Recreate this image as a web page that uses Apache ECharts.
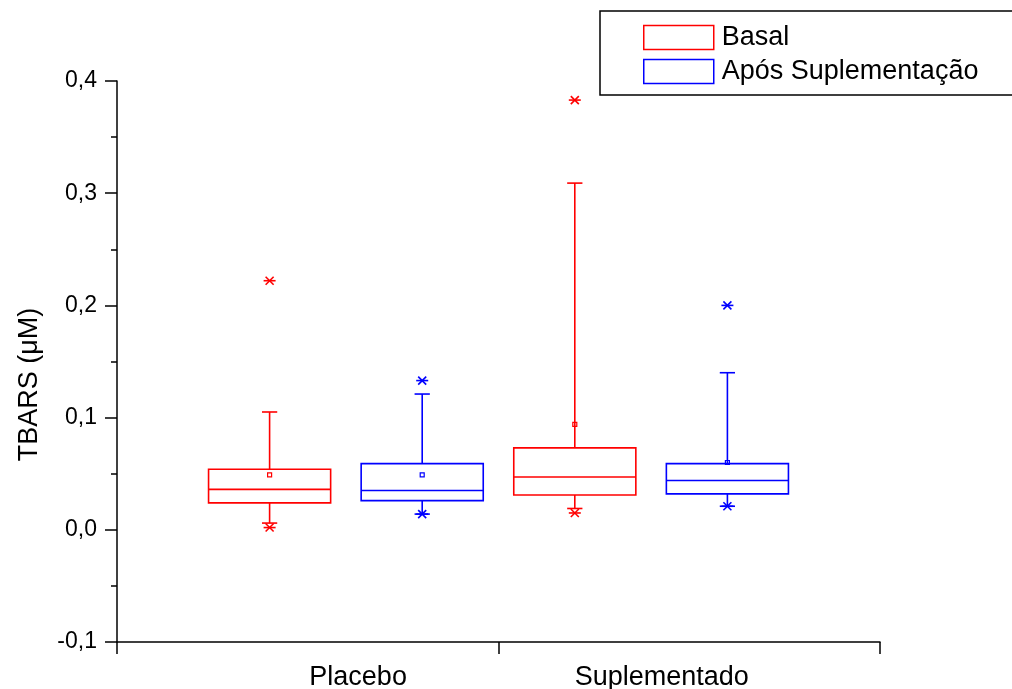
<!DOCTYPE html>
<html>
<head>
<meta charset="utf-8">
<title>TBARS</title>
<script src="https://cdn.jsdelivr.net/npm/echarts@6/dist/echarts.min.js"></script>
<style>
  html, body { margin: 0; padding: 0; background: #fff; }
  #main { width: 1012px; height: 689px; }
</style>
</head>
<body>
<div id="main"></div>
<script>
  // grupos e posicoes no eixo x (1..4)
  var groupNames = ['Placebo', 'Suplementado'];
  var groupLabelPos = [1.58, 3.57];
  var basalPos = [1, 3];
  var aposPos = [2, 4];

  // [min, p5, q1, mediana, q3, p95, max, media]
  var basalStats = [
    [0.002, 0.006, 0.024, 0.036, 0.054, 0.105, 0.222, 0.049],
    [0.015, 0.019, 0.031, 0.047, 0.073, 0.309, 0.383, 0.094]
  ];
  var aposStats = [
    [0.014, 0.014, 0.026, 0.035, 0.059, 0.121, 0.133, 0.049],
    [0.021, 0.021, 0.032, 0.044, 0.059, 0.140, 0.200, 0.060]
  ];

  var yTicks = [-0.1, 0, 0.1, 0.2, 0.3, 0.4];

  var fontFam = 'Liberation Sans, Arial, Helvetica, sans-serif';

  function rows(pos, stats) {
    return pos.map(function (p, i) { return [p].concat(stats[i]); });
  }

  function renderBox(color) {
    return function (params, api) {
      var x = api.value(0);
      var half = api.size([0.8, 0])[0] / 2;
      var capHalf = api.size([0.1, 0])[0] / 2;
      function pt(v) { return api.coord([x, v]); }
      var pMin = pt(api.value(1)), p5 = pt(api.value(2)), q1 = pt(api.value(3)),
          med = pt(api.value(4)), q3 = pt(api.value(5)), p95 = pt(api.value(6)),
          pMax = pt(api.value(7)), mean = pt(api.value(8));
      var cx = q1[0];
      var st = { stroke: color, lineWidth: 1.6, fill: 'none' };
      function line(x1, y1, x2, y2) {
        return { type: 'line', shape: { x1: x1, y1: y1, x2: x2, y2: y2 }, style: st };
      }
      function cross(p) {
        var s = 4;
        return [
          line(p[0] - s, p[1] - s, p[0] + s, p[1] + s),
          line(p[0] - s, p[1] + s, p[0] + s, p[1] - s),
          line(p[0] - 6, p[1], p[0] + 6, p[1])
        ];
      }
      var children = [
        { type: 'rect', shape: { x: cx - half, y: q3[1], width: 2 * half, height: q1[1] - q3[1] }, style: st },
        line(cx - half, med[1], cx + half, med[1]),
        line(cx, q3[1], cx, p95[1]),
        line(cx, q1[1], cx, p5[1]),
        line(cx - capHalf, p95[1], cx + capHalf, p95[1]),
        line(cx - capHalf, p5[1], cx + capHalf, p5[1]),
        { type: 'rect', shape: { x: mean[0] - 2, y: mean[1] - 2, width: 4, height: 4 }, style: { stroke: color, lineWidth: 1.2, fill: 'none' } }
      ].concat(cross(pMin), cross(pMax));
      return { type: 'group', children: children };
    };
  }

  var chart = echarts.init(document.getElementById('main'));
  chart.setOption({
    backgroundColor: '#fff',
    animation: false,
    textStyle: { fontFamily: fontFam, color: '#000' },
    grid: { left: 117, right: 132, top: 81, bottom: 47, containLabel: false, outerBoundsMode: 'none' },
    legend: {
      left: 600,
      top: 11,
      orient: 'vertical',
      padding: [13, 40, 10, 43],
      itemWidth: 70,
      itemHeight: 24,
      itemGap: 7,
      backgroundColor: '#fff',
      borderColor: '#000',
      borderWidth: 1.5,
      borderRadius: 0,
      textStyle: { fontSize: 27, color: '#000', fontFamily: fontFam, lineHeight: 24, padding: [0, 0, 0, 3] },
      data: [
        { name: 'Basal', icon: 'rect', itemStyle: { color: '#fff', borderColor: '#ff0000', borderWidth: 1.5 } },
        { name: 'Após Suplementação', icon: 'rect', itemStyle: { color: '#fff', borderColor: '#0000ff', borderWidth: 1.5 } }
      ]
    },
    xAxis: [
      {
        type: 'value',
        min: 0,
        max: 5,
        interval: 2.5,
        axisLine: { show: true, onZero: false, lineStyle: { color: '#000', width: 1.5 } },
        axisTick: { show: true, inside: false, length: 12, lineStyle: { color: '#000', width: 1.5 } },
        axisLabel: { show: false },
        splitLine: { show: false }
      },
      {
        type: 'value',
        position: 'bottom',
        min: 0,
        max: 5,
        interval: 0.01,
        axisLine: { show: false },
        axisTick: { show: false },
        splitLine: { show: false },
        axisLabel: {
          fontSize: 27,
          margin: 22,
          color: '#000',
          fontFamily: fontFam,
          formatter: function (v) {
            var k = Math.round(v * 100);
            for (var i = 0; i < groupLabelPos.length; i++) {
              if (Math.round(groupLabelPos[i] * 100) === k) return groupNames[i];
            }
            return '';
          }
        }
      }
    ],
    yAxis: {
      type: 'value',
      min: yTicks[0],
      max: yTicks[yTicks.length - 1],
      interval: 0.1,
      name: 'TBARS (μM)',
      nameLocation: 'middle',
      nameGap: 74,
      nameTextStyle: { fontSize: 27, color: '#000', fontFamily: fontFam, padding: [0, 46, 0, 0] },
      axisLine: { show: true, lineStyle: { color: '#000', width: 1.5 } },
      axisTick: { show: true, inside: false, length: 12, lineStyle: { color: '#000', width: 1.5 } },
      minorTick: { show: true, splitNumber: 2, length: 6, lineStyle: { color: '#000', width: 1.5 } },
      axisLabel: {
        fontSize: 23,
        margin: 20,
        color: '#000',
        fontFamily: fontFam,
        formatter: function (v) { return v.toFixed(1).replace('.', ','); }
      },
      splitLine: { show: false }
    },
    series: [
      {
        name: 'Basal',
        type: 'custom',
        xAxisIndex: 0,
        renderItem: renderBox('#ff0000'),
        encode: { x: 0, y: [1, 2, 3, 4, 5, 6, 7, 8] },
        data: rows(basalPos, basalStats)
      },
      {
        name: 'Após Suplementação',
        type: 'custom',
        xAxisIndex: 0,
        renderItem: renderBox('#0000ff'),
        encode: { x: 0, y: [1, 2, 3, 4, 5, 6, 7, 8] },
        data: rows(aposPos, aposStats)
      }
    ]
  });
</script>
</body>
</html>
